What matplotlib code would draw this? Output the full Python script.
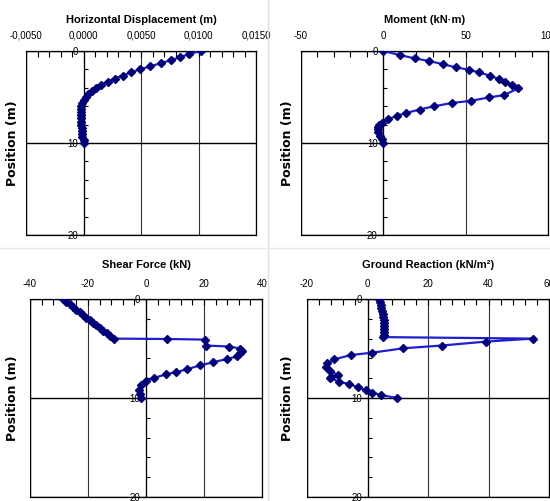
import matplotlib
matplotlib.use('Agg')
from matplotlib import pyplot as plt
from matplotlib.lines import Line2D
from matplotlib.ticker import MultipleLocator

plt.rcParams['font.family'] = ['Liberation Sans Narrow', 'Liberation Sans', 'DejaVu Sans']

# horizontal displacement (m) vs position (m)
disp_depth = [0, 0.33, 0.67, 1.0, 1.33, 1.67, 2.0, 2.33, 2.67, 3.0, 3.33, 3.67, 4.0,
              4.33, 4.67, 5.0, 5.33, 5.67, 6.0, 6.33, 6.67, 7.0, 7.33, 7.67, 8.0,
              8.33, 8.67, 9.0, 9.33, 9.67, 10.0]
disp = [0.0102, 0.0092, 0.0084, 0.0076, 0.0067, 0.0058, 0.0049, 0.0041, 0.0034, 0.0027,
        0.0021, 0.0015, 0.0011, 0.0007, 0.0004, 0.0002, 0.0000, -0.0001, -0.0002, -0.0002,
        -0.0002, -0.0002, -0.0002, -0.0002, -0.0002, -0.0001, -0.0001, -0.0001, -0.0001,
        0.0000, 0.0000]

# moment (kN.m)
mom_depth = [0, 0.44, 0.8, 1.1, 1.42, 1.78, 2.04, 2.33, 2.69, 3.05, 3.42, 3.71, 4.07,
             4.8, 5.05, 5.42, 5.64, 6.0, 6.36, 6.73, 7.05, 7.42, 7.78, 8.0, 8.25, 8.5,
             8.8, 9.2, 9.6, 10.0]
moment = [0, 10, 19, 28, 36, 44, 52, 58, 65, 70, 74, 78, 82,
          73, 64, 53, 42, 31, 22, 14, 8, 3, -1, -2.5, -3, -3.2,
          -3, -2, -1, 0]

# shear force (kN)
shear_depth = [0, 0.27, 0.53, 0.8, 1.07, 1.33, 1.6, 1.87, 2.13, 2.4, 2.67, 2.93, 3.2,
               3.47, 3.73, 4.0, 4.04, 4.1, 4.7, 4.8, 5.0, 5.3, 5.5, 5.8, 6.06, 6.4,
               6.7, 7.1, 7.4, 7.6, 8.0, 8.3, 8.7, 9.2, 9.6, 10.0]
shear = [-28.7, -27.5, -26.3, -25.2, -24.0, -22.9, -21.7, -20.6, -19.4, -18.3, -17.1,
         -16.0, -14.8, -13.6, -12.3, -10.9, 7.2, 20.3, 20.6, 28.7, 32.5, 33.0, 32.5,
         31.4, 27.9, 23.0, 18.7, 14.1, 10.3, 6.9, 2.6, 0.0, -1.7, -2.3, -2.2, -1.7]

# ground reaction (kN/m2)
gr_depth = [0, 0.3, 0.6, 0.9, 1.2, 1.5, 1.8, 2.1, 2.4, 2.7, 3.0, 3.3, 3.6, 3.85,
            4.0, 4.3, 4.7, 4.98, 5.42, 5.66, 6.1, 6.5, 6.9, 7.24, 7.68, 7.85, 8.0,
            8.35, 8.6, 8.9, 9.2, 9.46, 9.7, 10.0]
ground = [3.8, 4.0, 4.3, 4.6, 4.8, 5.0, 5.2, 5.3, 5.4, 5.5, 5.5, 5.4, 5.3, 5.2,
          54.7, 39.3, 24.5, 11.8, 1.6, -5.5, -11.0, -13.3, -13.6, -12.5, -9.8, -12.0,
          -12.5, -9.3, -6.0, -3.3, -0.5, 1.6, 4.4, 9.8]

depth_ticks = [0, 10, 20]
depth_labels = ['0', '10', '20']

LINE = '#1f1fcc'
MARK = '#00007a'

fig = plt.figure(figsize=(5.5, 5.01), dpi=100)


def panel(rect, x, depth, xlim, xticks, xlabels, minor, title):
    ax = fig.add_axes(rect)
    ax.plot(x, depth, color=LINE, lw=1.6, marker='D', ms=3.6,
            mfc=MARK, mec=MARK, zorder=3)
    ax.set_xlim(xlim)
    ax.set_ylim(20, 0)
    ax.xaxis.tick_top()
    ax.set_xticks(xticks)
    ax.set_xticklabels(xlabels, fontsize=7)
    ax.xaxis.set_minor_locator(MultipleLocator(minor))
    ax.tick_params(axis='x', which='both', direction='in', length=4,
                   top=True, bottom=False, pad=7.5, width=0.8)
    ax.spines['left'].set_position(('data', 0))
    ax.set_yticks(depth_ticks)
    ax.set_yticklabels(depth_labels, fontsize=7)
    ax.yaxis.set_minor_locator(MultipleLocator(2))
    ax.tick_params(axis='y', which='major', direction='out', length=3, pad=1, width=0.8)
    ax.tick_params(axis='y', which='minor', direction='in', length=3, width=0.8)
    ax.grid(axis='x', which='major', color='#333333', lw=0.8)
    ax.grid(axis='y', which='major', color='black', lw=1)
    ax.axvline(xlim[0], color='black', lw=1)
    for s in ax.spines.values():
        s.set_linewidth(0.9)
    ax.text(0.5, 1.17, title, transform=ax.transAxes, ha='center', va='center',
            fontsize=8, fontweight='bold')
    return ax


a1 = panel([26 / 550, 1 - 235 / 501, 230 / 550, 184 / 501], disp, disp_depth,
           (-0.005, 0.015), [-0.005, 0, 0.005, 0.010, 0.015],
           ['-0,0050', '0,0000', '0,0050', '0,0100', '0,0150'], 0.001,
           'Horizontal Displacement (m)')
a2 = panel([301 / 550, 1 - 235 / 501, 247 / 550, 184 / 501], moment, mom_depth,
           (-50, 100), [-50, 0, 50, 100], ['-50', '0', '50', '100'], 10,
           'Moment (kN·m)')
a3 = panel([30 / 550, 1 - 497 / 501, 232 / 550, 198 / 501], shear, shear_depth,
           (-40, 40), [-40, -20, 0, 20, 40], ['-40', '-20', '0', '20', '40'], 4,
           'Shear Force (kN)')
a4 = panel([307 / 550, 1 - 497 / 501, 242 / 550, 198 / 501], ground, gr_depth,
           (-20, 60), [-20, 0, 20, 40, 60], ['-20', '0', '20', '40', '60'], 4,
           'Ground Reaction (kN/m²)')

for ax, xc in [(a1, 13), (a2, 288), (a3, 13), (a4, 288)]:
    bb = ax.get_position()
    fig.text(xc / 550, bb.y0 + bb.height / 2, 'Position (m)', rotation=90,
             ha='center', va='center', fontsize=9, fontweight='bold',
             family='DejaVu Sans')

# faint divider between the four pictures
fig.add_artist(Line2D([268 / 550, 268 / 550], [0, 1], color='#e0e0e0', lw=1))
fig.add_artist(Line2D([0, 1], [1 - 248 / 501, 1 - 248 / 501], color='#e8e8e8', lw=1))

fig.savefig('out.png', dpi=100)
